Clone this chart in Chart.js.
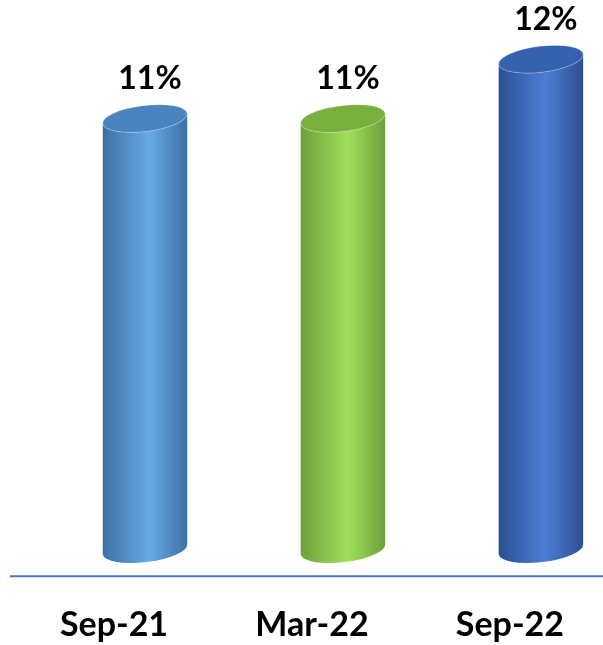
<!DOCTYPE html>
<html>
<head>
<meta charset="utf-8">
<script src="https://cdn.jsdelivr.net/npm/chart.js@4.4.1/dist/chart.umd.min.js"></script>
<style>
  html, body { margin: 0; padding: 0; background: #fff; overflow: hidden; }
  #wrap { width: 650px; height: 645px; }
</style>
</head>
<body>
<div id="wrap"><canvas id="rateChart"></canvas></div>
<script>
// Chart data
const periods = ['Sep-21', 'Mar-22', 'Sep-22'];
const rates = [10.9, 10.9, 12.4];

// Per-bar cylinder shades: edge, middle, top cap
const edgeColors = ['#3d70a2', '#6ca13a', '#2c4f92'];
const midColors = ['#66aae6', '#a0e05c', '#4c7ed6'];
const capColors = ['#4984be', '#78b03e', '#3562ae'];

// Draws each bar as a cylinder and puts its label above it
const cylinderPlugin = {
    id: 'cylinders',
    afterDatasetsDraw(chart) {
        const ctx = chart.ctx;
        const meta = chart.getDatasetMeta(0);
        const tilt = -0.12;
        ctx.save();
        meta.data.forEach((bar, i) => {
            const { x, y, base, width } = bar.getProps(['x', 'y', 'base', 'width'], true);
            const rx = width / 2;
            const ry = 13;
            const dx = rx * Math.cos(tilt);
            const dy = rx * Math.sin(tilt);

            // body
            const grad = ctx.createLinearGradient(x - rx, 0, x + rx, 0);
            grad.addColorStop(0, edgeColors[i]);
            grad.addColorStop(0.55, midColors[i]);
            grad.addColorStop(1, edgeColors[i]);
            ctx.beginPath();
            ctx.moveTo(x - dx, y - dy);
            ctx.lineTo(x - dx, base - dy);
            ctx.ellipse(x, base, rx, ry, tilt, Math.PI, 0, true);
            ctx.lineTo(x + dx, y + dy);
            ctx.ellipse(x, y, rx, ry, tilt, 0, Math.PI, false);
            ctx.closePath();
            ctx.fillStyle = grad;
            ctx.fill();

            // top cap
            ctx.beginPath();
            ctx.ellipse(x, y, rx, ry, tilt, 0, Math.PI * 2);
            ctx.fillStyle = capColors[i];
            ctx.fill();
            ctx.lineWidth = 1;
            ctx.strokeStyle = 'rgba(255,255,255,0.25)';
            ctx.stroke();

            // value label
            ctx.fillStyle = '#000';
            ctx.font = 'bold 32px Lato';
            ctx.textAlign = 'center';
            ctx.textBaseline = 'middle';
            ctx.fillText(rates[i].toFixed(0) + '%', x + 5, y - 40);
        });

        // baseline
        const lineY = chart.chartArea.bottom + 27;
        ctx.beginPath();
        ctx.moveTo(10, lineY);
        ctx.lineTo(chart.width, lineY);
        ctx.lineWidth = 2;
        ctx.strokeStyle = '#4a76c6';
        ctx.stroke();
        ctx.restore();
    }
};

new Chart(document.getElementById('rateChart'), {
    type: 'bar',
    data: {
        labels: periods,
        datasets: [{
            data: rates,
            backgroundColor: 'rgba(0,0,0,0)',
            categoryPercentage: 1,
            barPercentage: 0.43
        }]
    },
    options: {
        responsive: true,
        maintainAspectRatio: false,
        animation: false,
        layout: { padding: { left: 46, right: 0, top: 0, bottom: -55 } },
        plugins: { legend: { display: false }, tooltip: { enabled: false } },
        scales: {
            x: {
                grid: { display: false, drawTicks: false },
                border: { display: false },
                ticks: {
                    color: '#000',
                    font: { family: 'Lato', size: 34, weight: 'bold' },
                    padding: 55,
                    labelOffset: -31
                }
            },
            y: { display: false, min: 0, max: 13.9 }
        }
    },
    plugins: [cylinderPlugin]
});
</script>
</body>
</html>
